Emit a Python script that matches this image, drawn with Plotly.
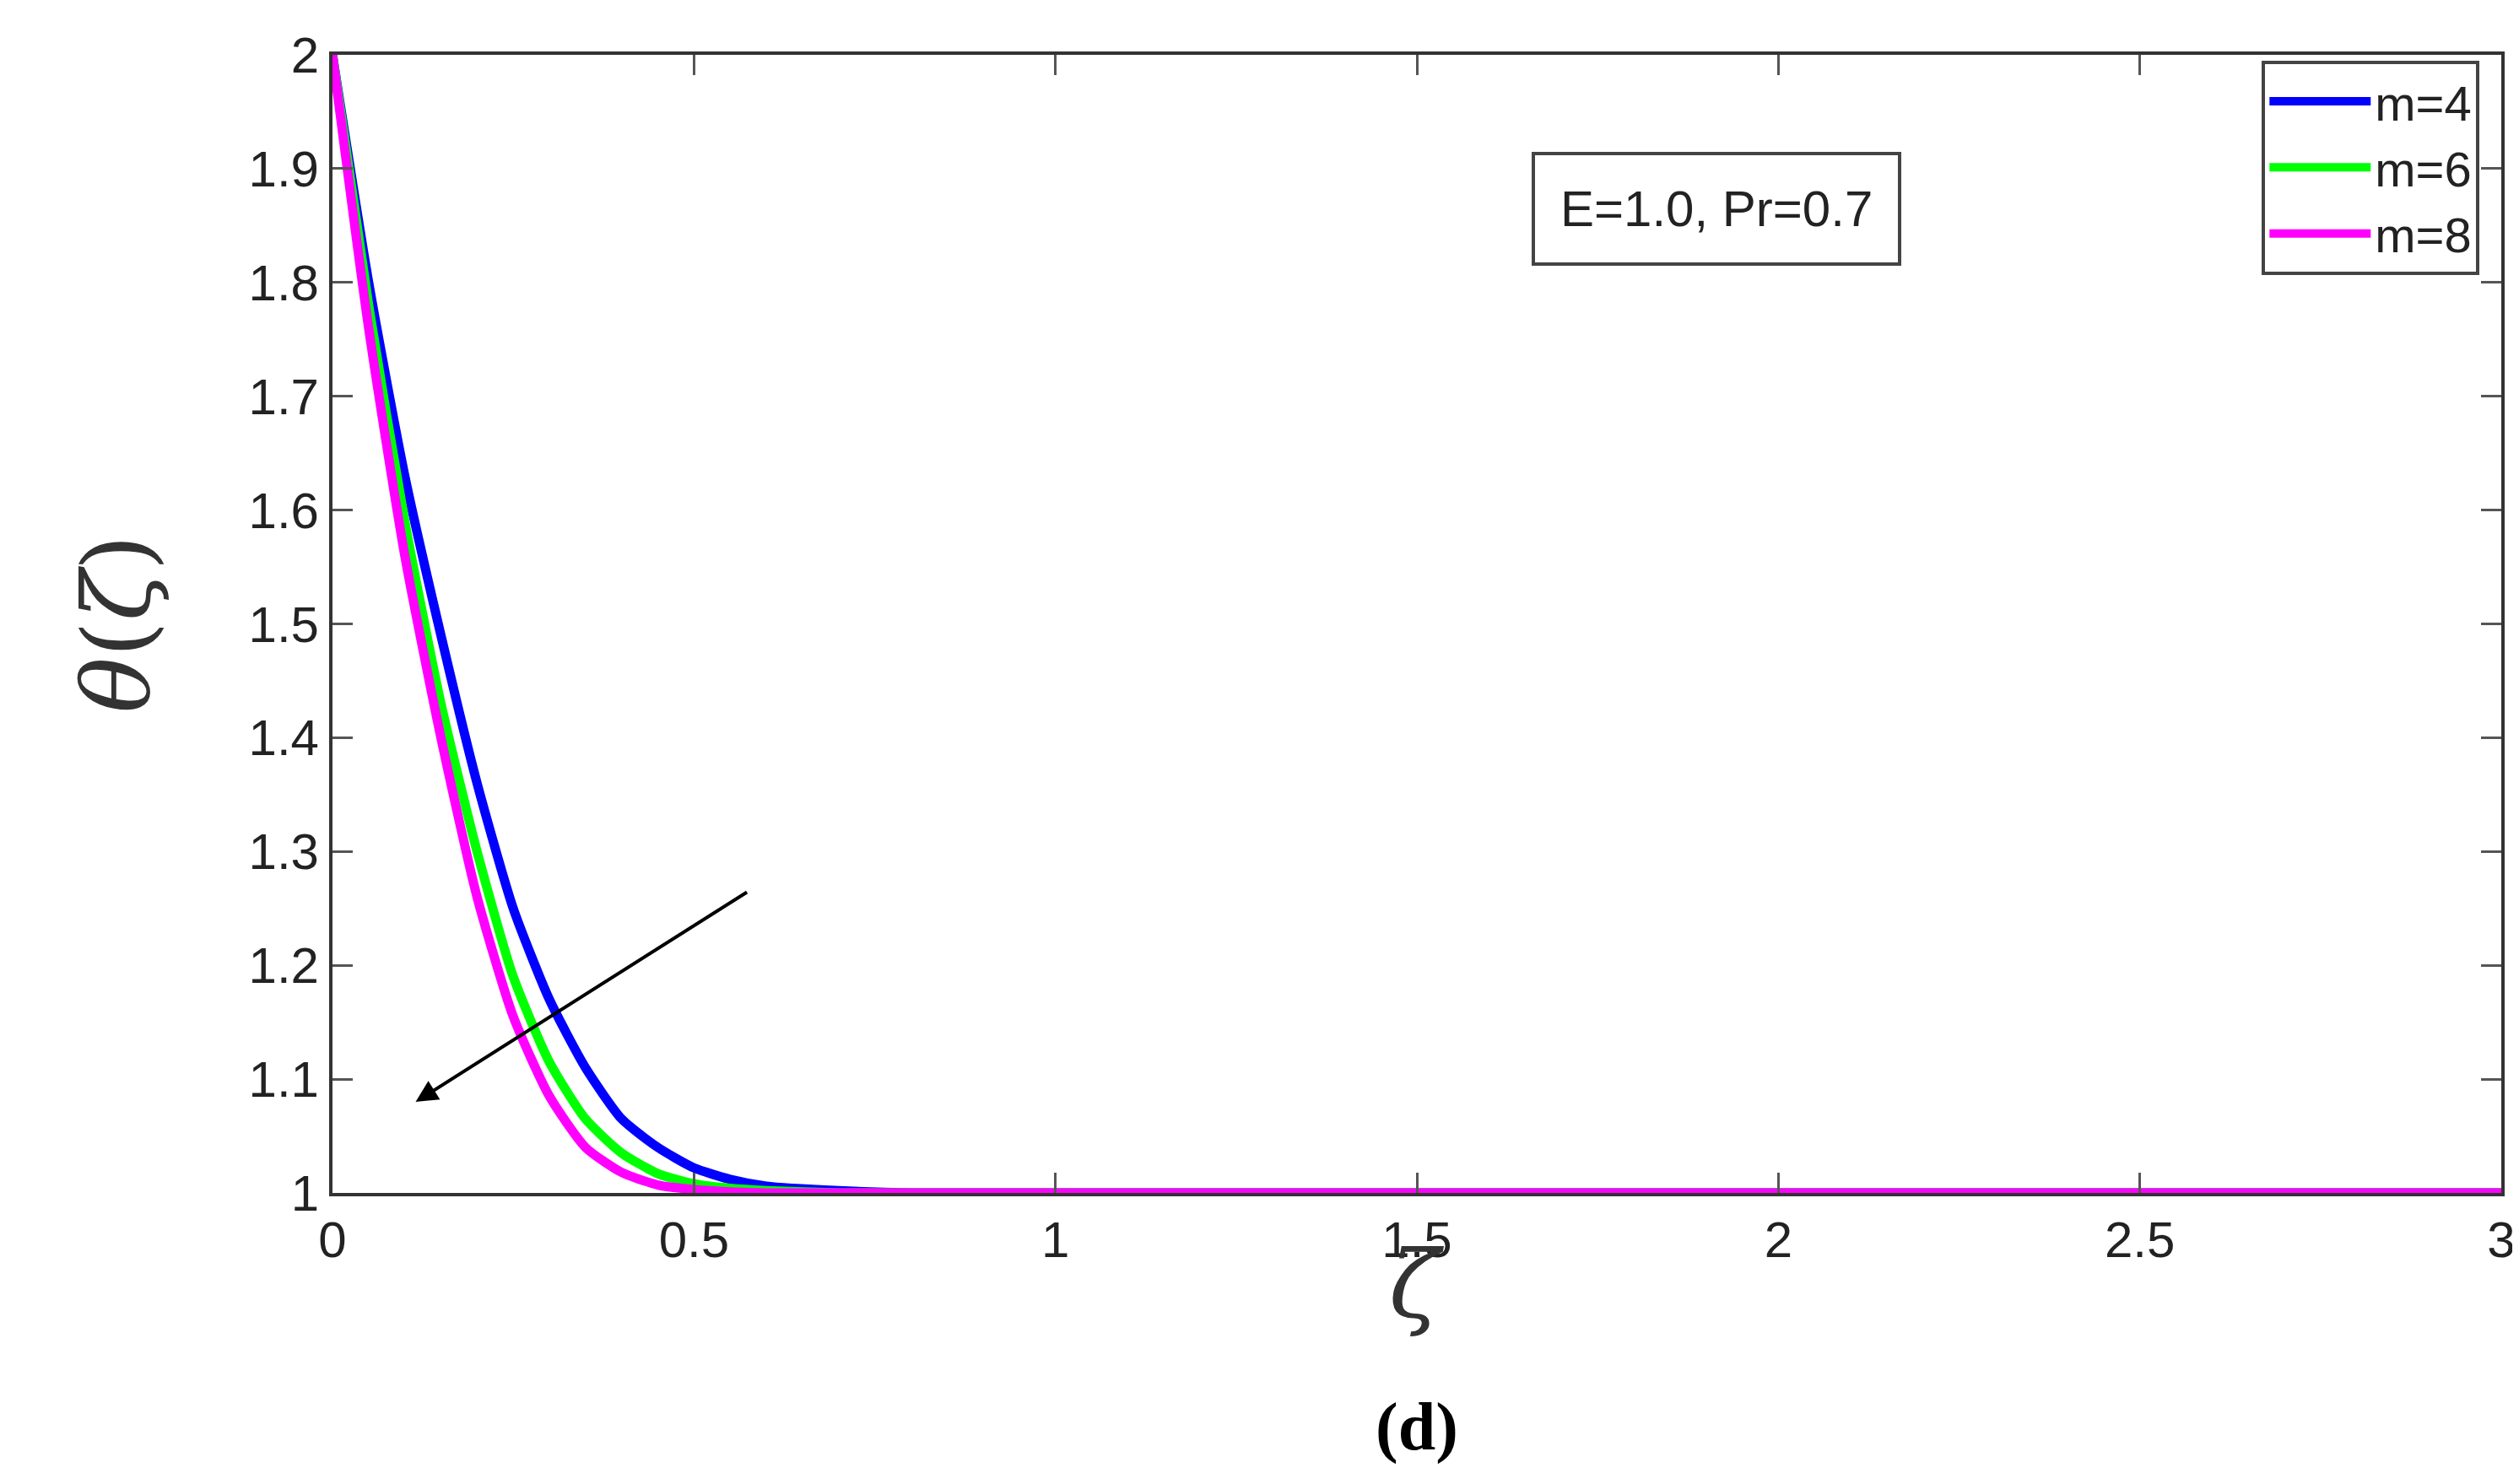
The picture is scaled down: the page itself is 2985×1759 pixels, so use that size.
import plotly.graph_objects as go

zeta = [0, 0.05, 0.1, 0.15, 0.2, 0.25, 0.3, 0.35, 0.4, 0.45, 0.5, 0.55, 0.6, 0.7, 0.8, 1.0, 3.0]
theta_m4 = [2, 1.80, 1.63, 1.49, 1.36, 1.25, 1.17, 1.11, 1.065, 1.04, 1.022, 1.012, 1.006, 1.002, 1.0, 1.0, 1.0]
theta_m6 = [2, 1.78, 1.59, 1.43, 1.30, 1.19, 1.115, 1.065, 1.035, 1.017, 1.008, 1.004, 1.002, 1.0, 1.0, 1.0, 1.0]
theta_m8 = [2, 1.76, 1.56, 1.40, 1.26, 1.155, 1.085, 1.04, 1.018, 1.007, 1.003, 1.001, 1.0, 1.0, 1.0, 1.0, 1.0]
names = ["m=4", "m=6", "m=8"]
colors = ["#0000ff", "#00ff00", "#ff00ff"]

fig = go.Figure()
for name, ys, c in zip(names, [theta_m4, theta_m6, theta_m8], colors):
    fig.add_trace(go.Scatter(x=zeta, y=ys, name=name, mode="lines",
                             line=dict(color=c, width=11, shape="spline", smoothing=0.6)))

axis = dict(showline=True, linecolor="#333", linewidth=4, mirror="ticks", ticks="inside",
            ticklen=24, tickwidth=3, tickcolor="#555", showgrid=False, zeroline=False,
            tickfont=dict(family="Liberation Sans", size=60, color="#222"))
fig.update_xaxes(range=[0, 3], dtick=0.5, **axis)
fig.update_yaxes(range=[1, 2], dtick=0.1, **axis)

fig.add_annotation(x=0.115, y=1.08, ax=0.575, ay=1.265, xref="x", yref="y", axref="x", ayref="y",
                   showarrow=True, arrowhead=2, arrowsize=1.3, arrowwidth=4, arrowcolor="black", text="")
fig.add_annotation(x=0.638, y=0.915, xref="paper", yref="paper", text="E=1.0, Pr=0.7", showarrow=False,
                   font=dict(family="Liberation Sans", size=60, color="#222"),
                   bordercolor="#444", borderwidth=4, borderpad=30, bgcolor="white")
fig.add_annotation(x=0.5, y=-0.13, xref="paper", yref="paper", text="<i>ζ</i>", showarrow=False,
                   font=dict(family="DejaVu Serif", size=110, color="#333"))
fig.add_annotation(x=-0.125, y=0.5, xref="paper", yref="paper", text="<i>θ</i>(<i>ζ</i>)", showarrow=False,
                   textangle=-90, font=dict(family="DejaVu Serif", size=110, color="#333"))
fig.add_annotation(x=0.5, y=-0.24, xref="paper", yref="paper", text="<b>(d)</b>", showarrow=False,
                   font=dict(family="Liberation Serif", size=80, color="black"))

fig.update_layout(
    width=2985, height=1759,
    margin=dict(l=386, r=29, t=57, b=353),
    plot_bgcolor="white", paper_bgcolor="white",
    legend=dict(x=0.99, y=0.995, xanchor="right", yanchor="top", bordercolor="#444", borderwidth=4,
                bgcolor="white", font=dict(family="Liberation Sans", size=58, color="#222"),
                itemwidth=120, tracegroupgap=0),
)

fig.write_html("out.html")
